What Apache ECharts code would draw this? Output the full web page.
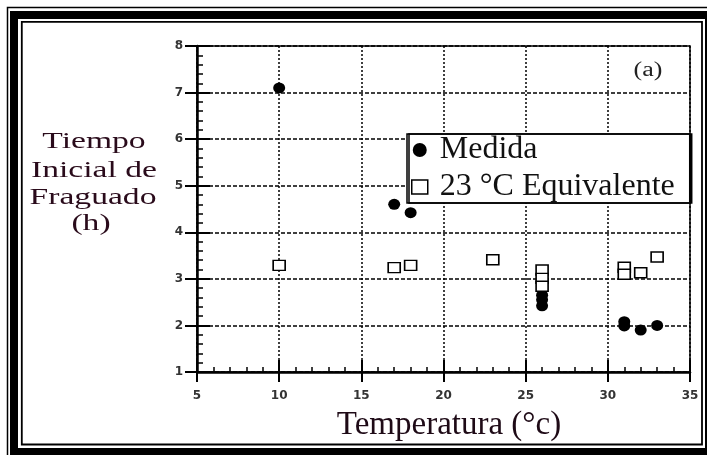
<!DOCTYPE html>
<html>
<head>
<meta charset="utf-8">
<script src="https://cdn.jsdelivr.net/npm/echarts@6/dist/echarts.min.js"></script>
<style>
  html, body { margin: 0; padding: 0; background: #fff; }
  #chart { width: 707px; height: 455px; }
</style>
</head>
<body>
<div id="chart"></div>
<script>
// Setting time vs. curing temperature
const temperaturaMedida = [10, 17, 18, 26, 26, 26, 31, 31, 32, 33];
const tiempoMedida      = [7.1, 4.6, 4.42, 2.65, 2.55, 2.42, 2.08, 1.99, 1.9, 2.0];

const temperaturaEquiv  = [10, 17, 18, 23, 26, 26, 26, 31, 31, 32, 33];
const tiempoEquiv       = [3.29, 3.24, 3.29, 3.41, 3.19, 3.01, 2.84, 3.25, 3.1, 3.13, 3.47];

const xTicks = { min: 5, max: 35, step: 5 };
const yTicks = { min: 1, max: 8, step: 1 };

const seriesNames = ['Medida', '23 °C Equivalente'];

const pairs = (xs, ys) => xs.map((x, i) => [x, ys[i]]);

const tickFont = { fontFamily: 'DejaVu Sans', fontWeight: 'bold', fontSize: 12, color: '#333' };
const serif = 'Liberation Serif';

const chart = echarts.init(document.getElementById('chart'), null, { renderer: 'canvas' });

chart.setOption({
  backgroundColor: '#fff',
  animation: false,
  grid: {
    left: 197, top: 46, right: 17, bottom: 83,
    show: true, borderColor: '#000', borderWidth: 1.5, backgroundColor: 'transparent'
  },
  xAxis: [
    {
      type: 'value', position: 'bottom',
      min: xTicks.min, max: xTicks.max, interval: xTicks.step,
      axisLine: { lineStyle: { color: '#000', width: 2.5 } },
      axisTick: { show: true, inside: false, length: 10, lineStyle: { color: '#000', width: 2 } },
      axisLabel: Object.assign({ margin: 18 }, tickFont),
      splitLine: { show: true, lineStyle: { color: '#000', width: 1.5, type: [2, 2] } },
      name: 'Temperatura (°c)',
      nameLocation: 'middle',
      nameGap: 37,
      nameTextStyle: { fontFamily: serif, fontSize: 33, color: '#1e0a16', padding: [0, 0, 0, 11] }
    },
    {
      type: 'value', position: 'bottom', offset: 0,
      min: xTicks.min, max: xTicks.max, interval: xTicks.step,
      axisLine: { show: false },
      axisTick: { show: true, inside: true, length: 12, lineStyle: { color: '#000', width: 2 } },
      minorTick: { show: true, splitNumber: 5, length: 5, lineStyle: { color: '#000', width: 1.5 } },
      axisLabel: { show: false },
      splitLine: { show: false }
    }
  ],
  yAxis: [
    {
      type: 'value', position: 'left',
      min: yTicks.min, max: yTicks.max, interval: yTicks.step,
      axisLine: { lineStyle: { color: '#000', width: 2.5 } },
      axisTick: { show: true, inside: false, length: 12, lineStyle: { color: '#000', width: 2 } },
      axisLabel: Object.assign({ margin: 14 }, tickFont),
      splitLine: { show: true, lineStyle: { color: '#000', width: 1.5, type: [4, 2] } }
    },
    {
      type: 'value', position: 'left', offset: 0,
      min: yTicks.min, max: yTicks.max, interval: yTicks.step,
      axisLine: { show: false },
      axisTick: { show: true, inside: true, length: 13, lineStyle: { color: '#000', width: 2 } },
      minorTick: { show: true, splitNumber: 5, length: 6, lineStyle: { color: '#000', width: 1.5 } },
      axisLabel: { show: false },
      splitLine: { show: false }
    }
  ],
  legend: {
    orient: 'vertical',
    left: 407, top: 134,
    padding: [0, 15, 0, 4],
    itemGap: 5,
    itemWidth: 16, itemHeight: 14,
    backgroundColor: '#fff',
    borderColor: '#000', borderWidth: 1.5, borderRadius: 0,
    shadowColor: '#000', shadowOffsetX: 2, shadowOffsetY: 0, shadowBlur: 0,
    textStyle: { fontFamily: serif, fontSize: 32, lineHeight: 32, color: '#111', padding: [0, 0, 0, 7] },
    data: [
      { name: seriesNames[0], icon: 'circle', itemStyle: { color: '#000', borderWidth: 0 } },
      { name: seriesNames[1], icon: 'rect', itemStyle: { color: '#fff', borderColor: '#000', borderWidth: 1.5 } }
    ]
  },
  graphic: [
    // decorative double frame
    { type: 'rect', z: 10, silent: true, shape: { x: 7.5, y: 7.5, width: 712, height: 460 },
      style: { fill: 'none', stroke: '#000', lineWidth: 1.5 } },
    { type: 'rect', z: 10, silent: true, shape: { x: 14, y: 15, width: 695, height: 437 },
      style: { fill: 'none', stroke: '#000', lineWidth: 8 } },
    { type: 'rect', z: 10, silent: true, shape: { x: 21.8, y: 21.8, width: 680.2, height: 422.7 },
      style: { fill: 'none', stroke: '#000', lineWidth: 1.8 } },
    // y axis title
    { type: 'text', x: 94, y: 141.5, scaleX: 1.4, style: { text: 'Tiempo', font: '24px "Liberation Serif"', fill: '#2a0b1b', align: 'center', verticalAlign: 'middle' } },
    { type: 'text', x: 94, y: 170.5, scaleX: 1.4, style: { text: 'Inicial de', font: '24px "Liberation Serif"', fill: '#2a0b1b', align: 'center', verticalAlign: 'middle' } },
    { type: 'text', x: 93, y: 197.5, scaleX: 1.4, style: { text: 'Fraguado', font: '24px "Liberation Serif"', fill: '#2a0b1b', align: 'center', verticalAlign: 'middle' } },
    { type: 'text', x: 91, y: 224, scaleX: 1.4, style: { text: '(h)', font: '24px "Liberation Serif"', fill: '#2a0b1b', align: 'center', verticalAlign: 'middle' } },
    // panel tag
    { type: 'text', x: 648, y: 71, scaleX: 1.3, z: 5, style: { text: '(a)', font: '20px "Liberation Serif"', fill: '#222', align: 'center', verticalAlign: 'middle' } }
  ],
  series: [
    {
      name: seriesNames[0], type: 'scatter', xAxisIndex: 0, yAxisIndex: 0,
      symbol: 'circle', symbolSize: [12, 11],
      itemStyle: { color: '#000', opacity: 1 },
      data: pairs(temperaturaMedida, tiempoMedida),
      z: 3
    },
    {
      name: seriesNames[1], type: 'scatter', xAxisIndex: 0, yAxisIndex: 0,
      symbol: 'rect', symbolSize: [12, 10],
      itemStyle: { color: '#fff', borderColor: '#000', borderWidth: 1.5, opacity: 1 },
      data: pairs(temperaturaEquiv, tiempoEquiv),
      z: 4
    }
  ]
});
</script>
</body>
</html>
